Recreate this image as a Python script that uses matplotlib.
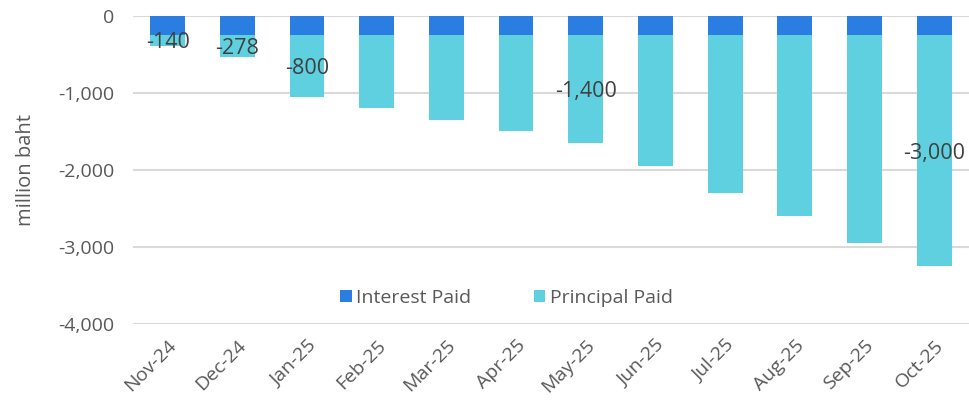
import matplotlib.pyplot as plt
import numpy as np
from matplotlib.ticker import FuncFormatter

months = ["Nov-24", "Dec-24", "Jan-25", "Feb-25", "Mar-25", "Apr-25",
          "May-25", "Jun-25", "Jul-25", "Aug-25", "Sep-25", "Oct-25"]
interest = [-250, -250, -250, -250, -250, -250, -250, -250, -250, -250, -250, -250]
principal = [-140, -278, -800, -950, -1100, -1250, -1400, -1700, -2050, -2350, -2700, -3000]
labelled = ["Nov-24", "Dec-24", "Jan-25", "May-25", "Oct-25"]

plt.rcParams['font.family'] = ['Open Sans', 'DejaVu Sans']
grey = "#595959"

fig, ax = plt.subplots(figsize=(9.69, 4.09), dpi=100)
fig.subplots_adjust(left=0.137, right=1.0, top=0.961, bottom=0.208)

x = np.arange(len(months))
ax.bar(x, interest, width=0.5, color="#2A7DE1", label="Interest Paid", zorder=3)
ax.bar(x, principal, width=0.5, bottom=interest, color="#5FD0DF",
       label="Principal Paid", zorder=3)

# data labels in the middle of the principal segment
for i, m in enumerate(months):
    if m in labelled:
        ax.text(i, interest[i] + principal[i] / 2 - 30, f"{principal[i]:,}",
                ha="center", va="center", fontsize=15.5, color="#404040", zorder=4)

ax.set_xlim(-0.5, 11.5)
ax.set_ylim(-4000, 0)
ax.set_yticks([0, -1000, -2000, -3000, -4000])
ax.yaxis.set_major_formatter(FuncFormatter(lambda v, p: f"{int(v):,}"))
ax.set_xticks(x)
ax.set_xticklabels(months, rotation=45, ha="right", rotation_mode="anchor")
ax.tick_params(axis="both", length=0, labelsize=14, colors=grey)
ax.tick_params(axis="x", pad=9)
ax.tick_params(axis="y", pad=13)
ax.grid(axis="y", color="#D9D9D9", linewidth=1.5, zorder=0)
for s in ax.spines.values():
    s.set_visible(False)

ax.set_ylabel("million baht", fontsize=14.5, color=grey, labelpad=16)

ax.legend(loc="center", bbox_to_anchor=(0.447, 0.085), ncol=2, frameon=False,
          fontsize=14, labelcolor=grey, handlelength=0.6, handleheight=0.6,
          handletextpad=0.25, columnspacing=3.2)

fig.savefig("out.png")
